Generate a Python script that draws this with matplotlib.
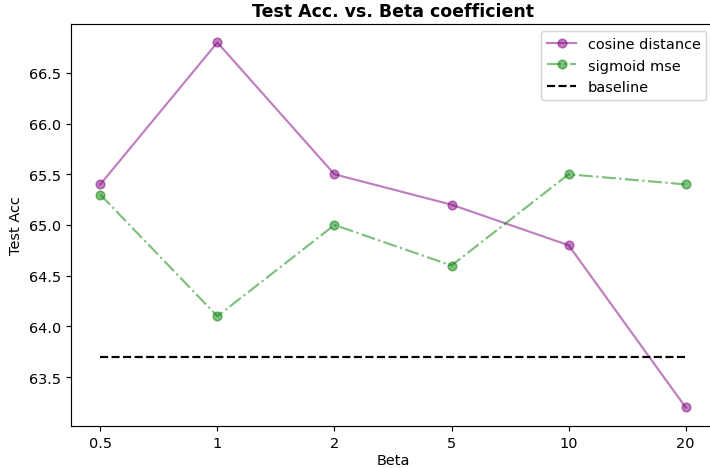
import matplotlib
matplotlib.use("Agg")
import matplotlib.pyplot as plt

# data
betas = ["0.5", "1", "2", "5", "10", "20"]
cosine_distance = [65.4, 66.8, 65.5, 65.2, 64.8, 63.2]
sigmoid_mse = [65.3, 64.1, 65.0, 64.6, 65.5, 65.4]
baseline = 63.7

x = list(range(len(betas)))

# reference looks rendered at a slightly higher dpi than 100
dpi = 104.5
fig = plt.figure(figsize=(710 / dpi, 469 / dpi), dpi=dpi)
ax = fig.add_axes([0.1, 0.0902, 0.907, 0.856])

ax.plot(x, cosine_distance, color="purple", marker="o", alpha=0.5, label="cosine distance")
ax.plot(x, sigmoid_mse, color="green", marker="o", linestyle="-.", alpha=0.5, label="sigmoid mse")
ax.plot(x, [baseline] * len(x), color="black", linestyle="--", label="baseline")

ax.set_xticks(x)
ax.set_xticklabels(betas)
ax.set_xlim(-0.25, 5.25)
ax.set_ylim(63.02, 66.98)
ax.set_xlabel("Beta", labelpad=2.5)
ax.set_ylabel("Test Acc")
ax.set_title("Test Acc. vs. Beta coefficient", fontweight="bold", fontsize=12)
ax.legend(loc="upper right", bbox_to_anchor=(0.998, 1.0))

fig.savefig("out.png", dpi=dpi)
